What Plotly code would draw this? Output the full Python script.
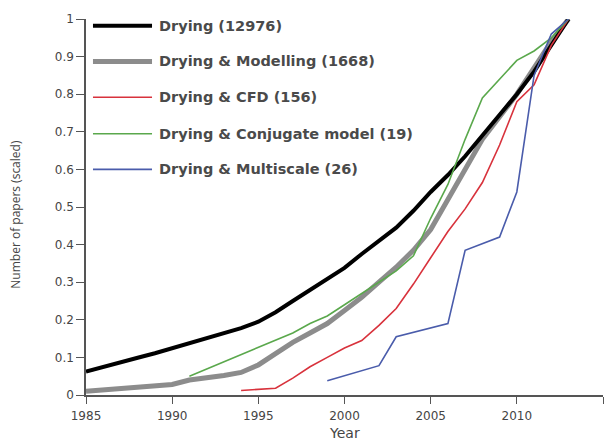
import plotly.graph_objects as go

# Scaled cumulative number of papers per year for each search query
years_drying = list(range(1985, 2014))
drying = [0.062, 0.075, 0.087, 0.099, 0.111, 0.124, 0.137, 0.150, 0.163, 0.178,
          0.195, 0.220, 0.250, 0.280, 0.308, 0.338, 0.375, 0.410, 0.445, 0.490,
          0.540, 0.585, 0.635, 0.690, 0.745, 0.800, 0.860, 0.930, 1.000]

years_modelling = [1985, 1987, 1990, 1991, 1992, 1993, 1994, 1995, 1996, 1997, 1998,
                   1999, 2000, 2001, 2002, 2003, 2004, 2005, 2006, 2007, 2008,
                   2009, 2010, 2011, 2012, 2013]
modelling = [0.010, 0.018, 0.028, 0.040, 0.045, 0.052, 0.060, 0.080, 0.110, 0.140,
             0.165, 0.190, 0.225, 0.260, 0.300, 0.340, 0.385, 0.440, 0.520, 0.600,
             0.680, 0.740, 0.800, 0.870, 0.940, 1.000]

years_cfd = list(range(1994, 2014))
cfd = [0.012, 0.015, 0.018, 0.045, 0.075, 0.100, 0.125, 0.145, 0.185, 0.230,
       0.295, 0.365, 0.435, 0.495, 0.565, 0.665, 0.780, 0.825, 0.930, 1.000]

years_conjugate = [1991, 1997, 1998, 1999, 2000, 2001, 2002, 2003, 2004, 2005,
                   2006, 2007, 2008, 2009, 2010, 2011, 2012, 2013]
conjugate = [0.050, 0.165, 0.190, 0.210, 0.240, 0.270, 0.300, 0.330, 0.370, 0.470,
             0.560, 0.680, 0.790, 0.840, 0.890, 0.915, 0.950, 1.000]

years_multiscale = [1999, 2002, 2003, 2006, 2007, 2009, 2010, 2011, 2012, 2013]
multiscale = [0.038, 0.078, 0.155, 0.190, 0.385, 0.420, 0.540, 0.850, 0.960, 1.000]

series_names = ["Drying (12976)", "Drying & Modelling (1668)", "Drying & CFD (156)",
                "Drying & Conjugate model (19)", "Drying & Multiscale (26)"]
series_x = [years_drying, years_modelling, years_cfd, years_conjugate, years_multiscale]
series_y = [drying, modelling, cfd, conjugate, multiscale]
series_colors = ["#000000", "#8c8c8c", "#d8323c", "#5aa84c", "#4a5cab"]
series_widths = [4, 5, 1.6, 1.6, 1.6]

x_ticks = [1985, 1990, 1995, 2000, 2005, 2010, 2015]
y_ticks = [0, 0.1, 0.2, 0.3, 0.4, 0.5, 0.6, 0.7, 0.8, 0.9, 1]
y_tick_text = ["0", "0.1", "0.2", "0.3", "0.4", "0.5", "0.6", "0.7", "0.8", "0.9", "1"]

TEXT_COLOR = "#454545"
AXIS_COLOR = "#555555"

fig = go.Figure()
draw_order = [1, 0, 2, 3, 4]
for i in draw_order:
    fig.add_trace(go.Scatter(
        x=series_x[i], y=series_y[i], mode="lines", name=series_names[i],
        line=dict(color=series_colors[i], width=series_widths[i]),
        showlegend=False,
    ))

# Hand-built legend in the upper-left corner with long line samples
legend_y = [0.982, 0.887, 0.792, 0.695, 0.600]
shapes = []
annotations = []
for i, name in enumerate(series_names):
    shapes.append(dict(type="line", xref="paper", yref="paper",
                       x0=0.0135, x1=0.1277, y0=legend_y[i], y1=legend_y[i],
                       line=dict(color=series_colors[i], width=series_widths[i])))
    annotations.append(dict(xref="paper", yref="paper", x=0.137, y=legend_y[i],
                            text=name, showarrow=False, xanchor="left",
                            yanchor="middle",
                            font=dict(family="DejaVu Sans", size=14.5, weight="bold",
                                      color="#4a4a4a")))

annotations.append(dict(xref="paper", yref="paper", x=-0.137, y=0.48,
                        text="Number of papers (scaled)", textangle=-90,
                        showarrow=False, xanchor="center", yanchor="middle",
                        font=dict(family="Open Sans", size=12, color=TEXT_COLOR)))
annotations.append(dict(xref="paper", yref="paper", x=0.5, y=-0.1,
                        text="Year", showarrow=False, xanchor="center",
                        yanchor="middle",
                        font=dict(family="DejaVu Sans", size=14, color=TEXT_COLOR)))

fig.update_layout(
    width=616, height=441,
    margin=dict(l=86, r=13, t=15, b=46),
    paper_bgcolor="white", plot_bgcolor="white",
    shapes=shapes, annotations=annotations,
    font=dict(family="DejaVu Sans", size=12, color=TEXT_COLOR),
    xaxis=dict(range=[1985, 2015], tickvals=x_ticks, ticks="outside", ticklen=7,
               tickcolor=AXIS_COLOR, tickwidth=1.3, showline=True, linecolor=AXIS_COLOR,
               linewidth=1.5, showgrid=False, zeroline=False, ticklabelstandoff=2,
               tickfont=dict(family="DejaVu Sans", size=12, color=TEXT_COLOR)),
    yaxis=dict(range=[0, 1], tickvals=y_ticks, ticktext=y_tick_text, ticks="outside",
               ticklen=8, tickcolor=AXIS_COLOR, tickwidth=1.3, showline=True,
               linecolor=AXIS_COLOR, linewidth=1.5, showgrid=False, zeroline=False,
               tickfont=dict(family="DejaVu Sans", size=12, color=TEXT_COLOR)),
)

fig.write_html("out.html")
